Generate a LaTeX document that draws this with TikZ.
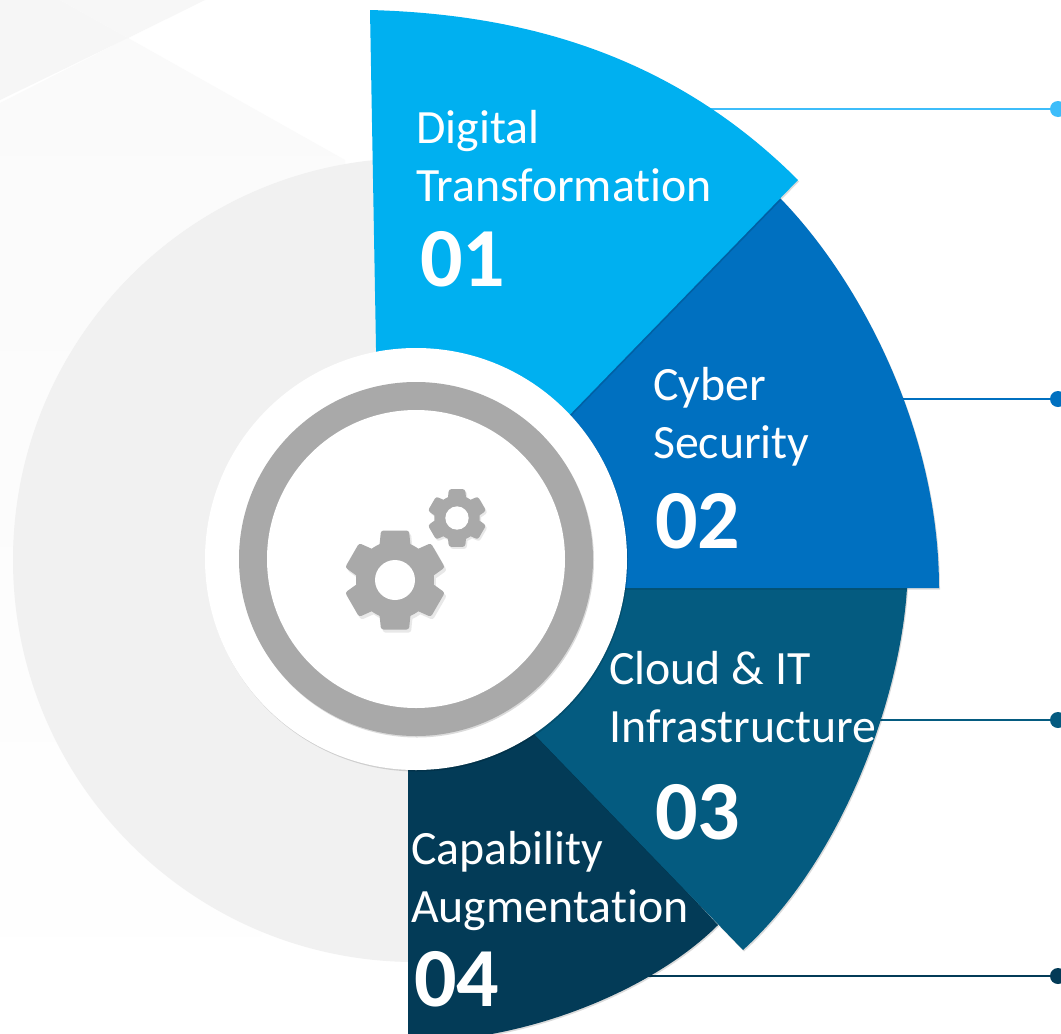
\documentclass[tikz,border=0pt]{standalone}
\usepackage{fontspec}
\setmainfont[Ligatures=NoCommon]{Carlito}
\usetikzlibrary{positioning,shadows}
\definecolor{digitalblue}{HTML}{00B0F0}
\definecolor{cyberblue}{HTML}{0070C0}
\definecolor{cloudblue}{HTML}{045B80}
\definecolor{capablue}{HTML}{033B57}
\definecolor{digitalline}{HTML}{3DBDFA}
\definecolor{discgray}{HTML}{F1F1F1}
\definecolor{ringgray}{HTML}{A9A9A9}
\tikzset{
  softshadow/.style={drop shadow={shadow xshift=1pt,shadow yshift=-1.5pt,opacity=.14,fill=black}},
  labeltext/.style={text=white,align=left,inner sep=0pt,anchor=north west,font=\fontsize{47.8}{58}\selectfont},
  numbertext/.style={text=white,inner sep=0pt,anchor=base west,font=\fontsize{84}{84}\selectfont\bfseries},
  enddot/.style={circle,inner sep=0pt,minimum size=16pt},
  ringnode/.style={circle,inner sep=0pt},
  gearicon/.pic={
    \foreach \a in {0,60,...,300}
      \path[pic actions,rotate=\a,rounded corners=2.5pt] (-16,-30) -- (-14,-49.5) -- (14,-49.5) -- (16,-30) -- cycle;
    \path[pic actions] (0,0) circle (39);
    \fill[white] (0,0) circle (20);
  }
}
\begin{document}
\begin{tikzpicture}[x=1pt,y=-1pt]
  \path[use as bounding box,fill=white] (0,0) rectangle (1061,1034);
  % background
  \path[top color=black!2,bottom color=white] (0,103) -- (128,38) -- (345,160) -- (345,800) -- (200,1034) -- (0,1034) -- cycle;
  \fill[black!3.5] (0,0) -- (60,0) -- (128,38) -- (0,100) -- cycle;
  \fill[black!3] (60,0) -- (205,0) -- (128,38) -- cycle;
  \node[ringnode,fill=discgray,minimum size=804pt] (backdisc) at (415,560) {};

  % end points
  \coordinate (digitalstart) at (700,109);
  \coordinate (cyberstart) at (890,399);
  \coordinate (cloudstart) at (870,720);
  \coordinate (capastart) at (630,976);
  \node[enddot,fill=digitalline] (digitaldot) at (1058,109) {};
  \node[enddot,fill=cyberblue] (cyberdot) at (1058,399) {};
  \node[enddot,fill=cloudblue] (clouddot) at (1058,720) {};
  \node[enddot,fill=capablue] (capadot) at (1058,976) {};
  \draw[digitalline,line width=2.2pt] (digitalstart) -- (digitaldot);
  \draw[cyberblue,line width=2.2pt] (cyberstart) -- (cyberdot);
  \draw[cloudblue,line width=2.2pt] (cloudstart) -- (clouddot);
  \draw[capablue,line width=2.2pt] (capastart) -- (capadot);

  % sectors
  \fill[capablue,softshadow] (408,600) -- (408,1042) .. controls (530,1042) and (655,988) .. (718,925) -- (416,600) -- cycle;
  \fill[cloudblue,softshadow] (416,580) -- (907,580) -- (907,588) .. controls (900,700) and (842,860) .. (743,950) -- (416,612) -- cycle;
  \fill[cyberblue,softshadow] (416,560) -- (780,198) .. controls (860,280) and (939,430) .. (939,588) -- (416,588) -- cycle;
  \fill[digitalblue,softshadow] (370,10) .. controls (515,14) and (668,50) .. (798,180) -- (416,573) -- (380,573) -- cycle;

  % centre
  \node[ringnode,fill=white,minimum size=422pt,softshadow] (hub) at (416,559) {};
  \node[ringnode,fill=ringgray,minimum size=354pt,softshadow] (ring) at (416,559) {};
  \node[ringnode,fill=white,minimum size=298pt] (core) at (416,559) {};
  \pic[fill=black!9] at (397,583) {gearicon};
  \pic[fill=ringgray] at (395,580) {gearicon};
  \pic[fill=black!9,scale=.583] at (458.5,520) {gearicon};
  \pic[fill=ringgray,scale=.583] at (457,518) {gearicon};

  % labels
  \node[labeltext] (digital) at (416,110) {Digital\\Transformation};
  \node[numbertext] (digitalnum) at (420,286.5) {01};
  \node[labeltext] (cyber) at (653,367) {Cyber\\Security};
  \node[numbertext] (cybernum) at (655,548.5) {02};
  \node[labeltext] (cloud) at (609,651) {Cloud \& IT\\Infrastructure};
  \node[numbertext] (cloudnum) at (655,839.5) {03};
  \node[labeltext] (capa) at (411,831) {Capability\\Augmentation};
  \node[numbertext] (capanum) at (414,1006.5) {04};
\end{tikzpicture}
\end{document}
